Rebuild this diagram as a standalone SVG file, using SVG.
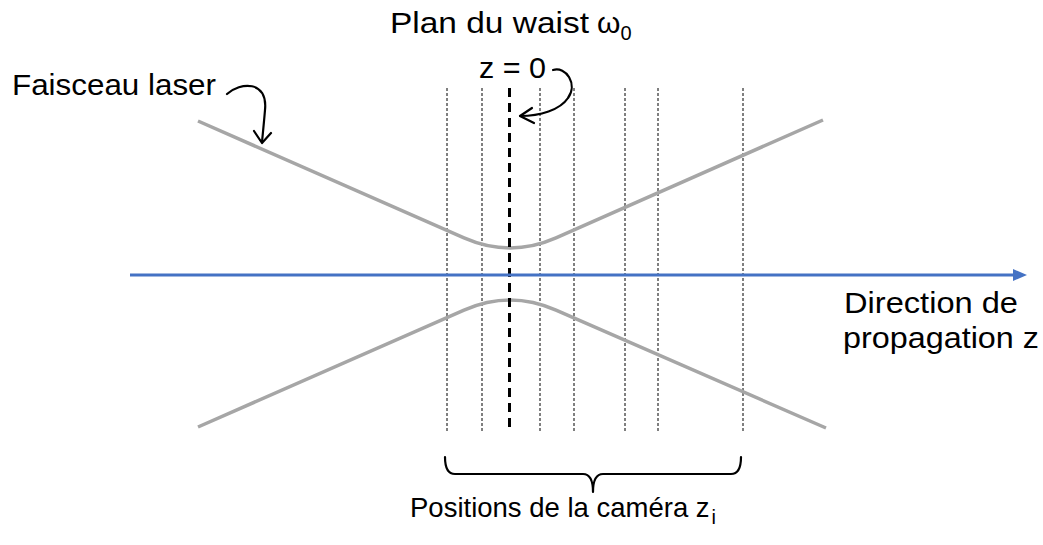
<svg xmlns="http://www.w3.org/2000/svg" width="1043" height="545" viewBox="0 0 1043 545">
<style>
.t{font-family:"Liberation Sans",Arial,sans-serif;font-size:30px;fill:#000}
.sub{font-size:20px}
.thin{stroke:#000;stroke-width:1;stroke-dasharray:3 2;fill:none}
.beam{stroke:#A6A6A6;stroke-width:3.5;fill:none;stroke-linejoin:round}
.curve{stroke:#000;stroke-width:2.2;fill:none;stroke-linecap:round;stroke-linejoin:round}
</style>
<defs>
<marker id="blueHead" markerWidth="14" markerHeight="12" refX="0" refY="6" orient="auto" markerUnits="userSpaceOnUse" viewBox="0 0 14 12">
<path d="M0,0 L14,6 L0,12 z" fill="#4472C4"/>
</marker>
</defs>
<rect width="1043" height="545" fill="#fff"/>
<g id="camera-planes">
<line class="thin" x1="447" y1="88" x2="447" y2="431"/>
<line class="thin" x1="482" y1="88" x2="482" y2="431"/>
<line class="thin" x1="540" y1="88" x2="540" y2="431"/>
<line class="thin" x1="574" y1="88" x2="574" y2="431"/>
<line class="thin" x1="625" y1="88" x2="625" y2="431"/>
<line class="thin" x1="658" y1="88" x2="658" y2="431"/>
<line class="thin" x1="743" y1="88" x2="743" y2="431"/>
</g>
<g id="beam">
<path class="beam" d="M198,121 L464,237.8 Q510,258 556,237.8 L823,120"/>
<path class="beam" d="M198,427 L464,310.2 Q510,290 556,310.2 L826,428"/>
</g>
<g id="waist-plane">
<line x1="509.5" y1="88" x2="509.5" y2="433" stroke="#000" stroke-width="3" stroke-dasharray="9 6"/>
</g>
<g id="connectors">
<line x1="130" y1="275" x2="1013" y2="275" stroke="#4472C4" stroke-width="3" marker-end="url(#blueHead)"/>
<path class="curve" d="M227,94 C240,82 268,80 265,110 C264,122 263,132 262,142"/>
<path class="curve" d="M254,131 L262,143 L271,133"/>
<path class="curve" d="M553,70 C566,66 578,84 568,98 C560,110 540,116 520,116"/>
<path class="curve" d="M532,108 L520,116 L534,123"/>
<path class="curve" d="M445,457 Q445,474 455,474 L583,474 Q593,474 593,492 Q593,474 603,474 L731,474 Q741,474 741,457"/>
</g>
<g id="labels">
<text class="t" x="390" y="33"><tspan textLength="199" lengthAdjust="spacingAndGlyphs">Plan du waist</tspan><tspan x="597">ω</tspan><tspan class="sub" dy="7">0</tspan></text>
<text class="t" x="479" y="78" textLength="67" lengthAdjust="spacingAndGlyphs">z = 0</text>
<text class="t" x="12" y="95" textLength="204" lengthAdjust="spacingAndGlyphs">Faisceau laser</text>
<text class="t" x="844" y="313" textLength="174" lengthAdjust="spacingAndGlyphs">Direction de</text>
<text class="t" x="843" y="348" textLength="196" lengthAdjust="spacingAndGlyphs">propagation z</text>
<text class="t" x="410" y="517" style="font-size:27.5px">Positions de la caméra z<tspan class="sub" dx="2" dy="7">i</tspan></text>
</g>
</svg>
